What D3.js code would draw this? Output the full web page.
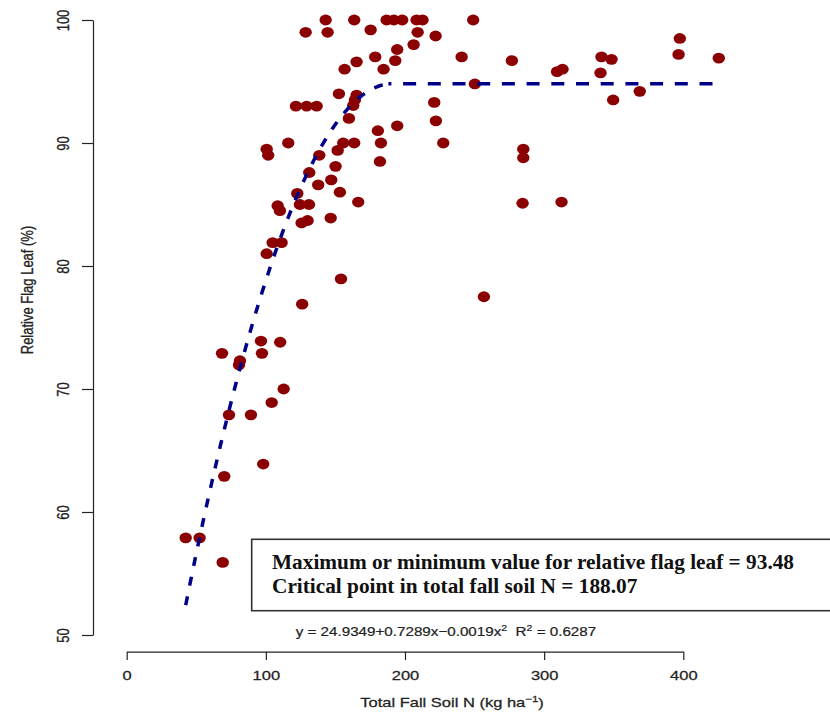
<!DOCTYPE html>
<html>
<head>
<meta charset="utf-8">
<script src="https://cdn.jsdelivr.net/npm/d3@7"></script>
<style>
  body { margin: 0; background: #fff; }
  svg { display: block; }
  text { font-family: "Liberation Sans", Arial, sans-serif; }
</style>
</head>
<body>
<svg id="chart" width="830" height="713"></svg>
<script>
// total fall soil N (kg/ha) and relative flag leaf (%)
const soilN = [42.4, 52.4, 69.0, 70.1, 98.1, 73.5, 89.3, 104.2, 112.8, 68.5,
  97.2, 81.4, 80.7, 96.5, 110.3, 126.1, 154.0, 256.7, 100.6, 104.9,
  111.3, 108.5, 110.1, 124.5, 131.0, 125.7, 130.0, 146.6, 122.6, 137.6,
  147.0, 153.2, 150.1, 131.2, 138.4, 151.6, 155.6, 163.5, 116.1, 100.6,
  101.7, 159.7, 121.6, 129.3, 136.5, 152.5, 165.2, 164.0, 162.8, 156.6,
  165.2, 128.6, 144.4, 143.0, 163.5, 175.3, 186.8, 192.0, 198.0, 208.3,
  212.6, 249.0, 209.1, 222.0, 206.2, 194.4, 178.6, 193.0, 184.6, 240.7,
  276.8, 250.2, 221.0, 222.2, 194.4, 180.5, 182.7, 227.5, 182.0, 166.4,
  285.0, 285.0, 284.5, 312.5, 309.3, 313.2, 341.2, 348.4, 340.5, 349.6,
  368.7, 397.5, 396.6, 425.5];
const flagLeaf = [57.9, 57.9, 55.9, 62.9, 63.9, 67.9, 67.9, 68.9, 70.0, 72.9,
  72.9, 72.3, 71.95, 73.9, 73.8, 76.9, 78.95, 77.5, 81.0, 81.9,
  81.9, 84.9, 84.5, 85.0, 85.0, 83.5, 83.7, 83.9, 85.9, 86.6,
  87.0, 86.0, 88.1, 87.6, 89.0, 89.4, 90.0, 90.0, 90.0, 89.5,
  89.0, 92.0, 93.0, 93.0, 93.0, 94.0, 93.9, 93.5, 93.05, 96.0,
  96.6, 99.0, 99.0, 100, 100, 99.2, 100, 100, 100, 100,
  100, 100, 99.0, 98.7, 98.0, 97.6, 97.0, 96.7, 96.0, 97.0,
  96.7, 94.8, 93.3, 91.8, 91.4, 91.0, 90.0, 90.0, 88.5, 85.2,
  89.5, 88.8, 85.1, 85.2, 95.8, 96.0, 97.0, 96.8, 95.7, 93.5,
  94.2, 98.5, 97.2, 96.9];

const xTicks = [0, 100, 200, 300, 400];
const yTicks = [50, 60, 70, 80, 90, 100];

// quadratic-plateau fit printed under the plot
const fitCoef = [24.9349, 0.7289, -0.0019];
const critN = 188.07;
const boxLines = [
  "Maximum or minimum value for relative flag leaf = 93.48",
  "Critical point in total fall soil N = 188.07"
];

const svg = d3.select("#chart");
const SX = 1.27; // the original text is drawn a bit wide

const x = d3.scaleLinear().domain([0, 400]).range([126.7, 683.3]);
const y = d3.scaleLinear().domain([50, 100]).range([635, 20]);

// y axis
const yAxis = svg.append("g")
  .attr("transform", "translate(93,0)")
  .call(d3.axisLeft(y).tickValues(yTicks).tickSize(11).tickSizeOuter(0));
yAxis.select(".domain").attr("stroke", "#222").attr("stroke-width", 1.2);
yAxis.selectAll(".tick line").attr("stroke", "#222").attr("stroke-width", 1.2);
yAxis.selectAll(".tick text")
  .attr("x", null).attr("dy", null)
  .attr("text-anchor", "middle")
  .attr("font-size", 13)
  .attr("fill", "#222")
  .attr("stroke", "#222").attr("stroke-width", 0.25)
  .attr("transform", `translate(-24,0) rotate(-90) scale(1,${SX})`);

// x axis
const xAxis = svg.append("g")
  .attr("transform", "translate(0,651.7)")
  .call(d3.axisBottom(x).tickValues(xTicks).tickSize(8.3).tickSizeOuter(0));
xAxis.select(".domain").attr("stroke", "#222").attr("stroke-width", 1.2);
xAxis.selectAll(".tick line").attr("stroke", "#222").attr("stroke-width", 1.2);
xAxis.selectAll(".tick text")
  .attr("y", 28.3).attr("dy", null)
  .attr("font-size", 13)
  .attr("fill", "#222")
  .attr("stroke", "#222").attr("stroke-width", 0.25)
  .attr("transform", `scale(${SX},1)`);

// axis titles
const xt = svg.append("text")
  .attr("transform", `translate(452,707) scale(${SX},1)`)
  .attr("text-anchor", "middle")
  .attr("font-size", 13)
  .attr("fill", "#222")
  .attr("stroke", "#222").attr("stroke-width", 0.25)
  .text("Total Fall Soil N (kg ha");
xt.append("tspan").attr("font-size", 9).attr("dy", -5).text("\u22121");
xt.append("tspan").attr("dy", 5).text(")");

svg.append("text")
  .attr("transform", `translate(33,290) rotate(-90) scale(1,${SX})`)
  .attr("text-anchor", "middle")
  .attr("font-size", 13)
  .attr("fill", "#222")
  .attr("stroke", "#222").attr("stroke-width", 0.25)
  .text("Relative Flag Leaf (%)");

// points
const pts = soilN.map((n, i) => [n, flagLeaf[i]]);
svg.append("g").selectAll("ellipse")
  .data(pts)
  .join("ellipse")
  .attr("cx", d => x(d[0]))
  .attr("cy", d => y(d[1]))
  .attr("rx", 6.2)
  .attr("ry", 5.4)
  .attr("fill", "#8b0000");

// fitted curve + plateau
const fit = n => fitCoef[0] + fitCoef[1] * n + fitCoef[2] * n * n;
const curveN = d3.range(d3.min(soilN), critN, 1).concat([critN]);
const line = d3.line().x(d => x(d[0])).y(d => y(d[1]));

svg.append("path")
  .datum(curveN.map(n => [n, fit(n)]))
  .attr("d", line)
  .attr("fill", "none")
  .attr("stroke", "#00008b")
  .attr("stroke-width", 3.5)
  .attr("stroke-dasharray", "9,11");

svg.append("path")
  .datum([[critN, fit(critN)], [d3.max(soilN), fit(critN)]])
  .attr("d", line)
  .attr("fill", "none")
  .attr("stroke", "#00008b")
  .attr("stroke-width", 3.5)
  .attr("stroke-dasharray", "13,11.7")
  .attr("stroke-dashoffset", 10);

// box with critical values
svg.append("rect")
  .attr("x", 251.7).attr("y", 539.3)
  .attr("width", 620).attr("height", 71.4)
  .attr("fill", "#fff")
  .attr("stroke", "#333")
  .attr("stroke-width", 1.6);

svg.append("g").selectAll("text")
  .data(boxLines)
  .join("text")
  .attr("x", 272)
  .attr("y", (d, i) => 569.3 + i * 24)
  .attr("font-size", 21.3)
  .attr("font-weight", "bold")
  .style("font-family", '"Liberation Serif", "Times New Roman", serif')
  .attr("fill", "#111")
  .text(d => d);

// equation
const eq = svg.append("text")
  .attr("transform", "translate(295.7,636) scale(1.17,1)")
  .attr("font-size", 13)
  .attr("fill", "#222")
  .attr("stroke", "#222").attr("stroke-width", 0.2)
  .text("y = 24.9349+0.7289x\u22120.0019x");
eq.append("tspan").attr("font-size", 9).attr("dy", -5).text("2");
eq.append("tspan").attr("dy", 5).text("\u00a0\u00a0R");
eq.append("tspan").attr("font-size", 9).attr("dy", -5).text("2");
eq.append("tspan").attr("dy", 5).text(" = 0.6287");
</script>
</body>
</html>
